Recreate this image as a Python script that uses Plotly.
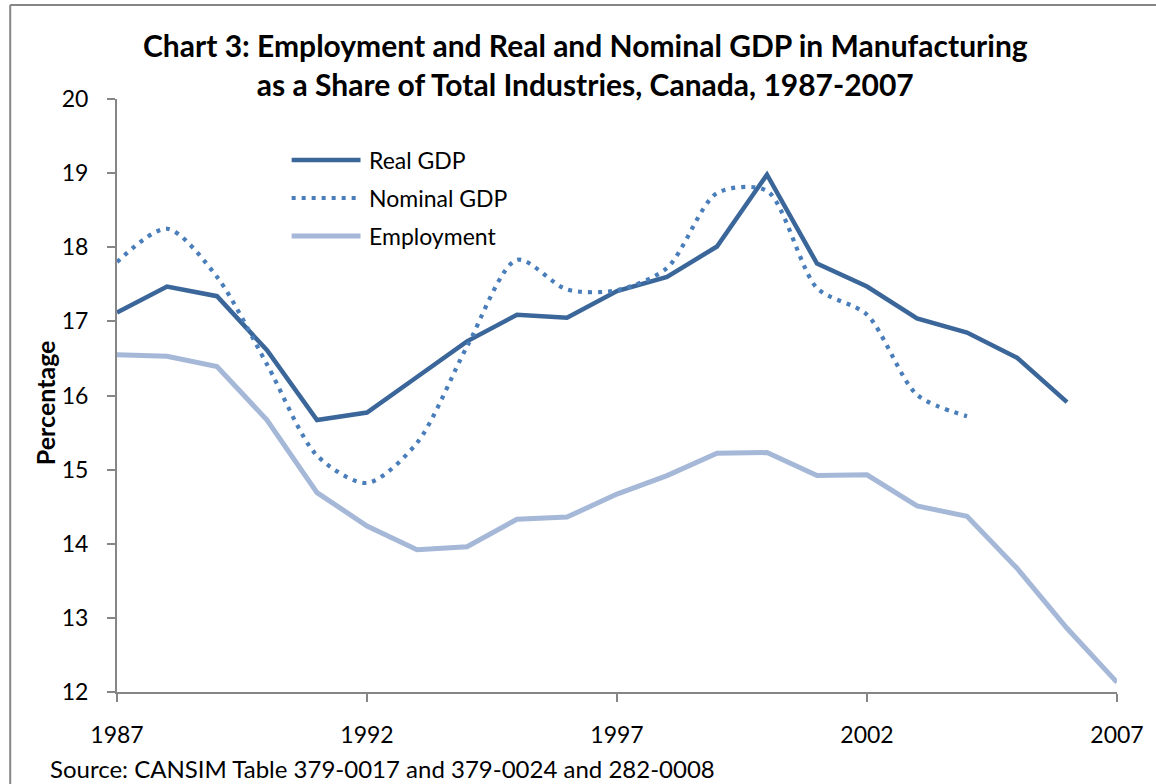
import plotly.graph_objects as go

# Manufacturing as a share of total industries (%), Canada
years = list(range(1987, 2008))

real_gdp = [17.12, 17.47, 17.34, 16.61, 15.67, 15.77, 16.25, 16.73, 17.09, 17.05,
            17.41, 17.60, 18.01, 18.98, 17.78, 17.47, 17.04, 16.85, 16.51, 15.91]
nominal_gdp = [17.80, 18.25, 17.60, 16.42, 15.19, 14.82, 15.36, 16.66, 17.83, 17.43,
               17.42, 17.72, 18.73, 18.76, 17.45, 17.09, 16.01, 15.72]
employment = [16.55, 16.53, 16.39, 15.67, 14.69, 14.24, 13.92, 13.96, 14.33, 14.36,
              14.67, 14.92, 15.22, 15.23, 14.92, 14.93, 14.51, 14.37, 13.67, 12.86, 12.13]

x_ticks = [1987, 1992, 1997, 2002, 2007]
y_ticks = list(range(12, 21))

title_text = ("Chart 3: Employment and Real and Nominal GDP in Manufacturing<br>"
              "as a Share of Total Industries, Canada, 1987-2007")
source_text = "Source: CANSIM Table 379-0017 and 379-0024 and 282-0008"

C_REAL = "#3B6699"
C_NOM = "#4A7EBB"
C_EMP = "#A6B8D7"
AXIS = "#868686"
FONT = "Lato"
DOTS = "4px,6px"

W, H = 1156, 784
L, R, T, B = 117, 37, 99, 92
PW, PH = W - L - R, H - T - B


def px(xp):
    return (xp - L) / PW


def py(yp):
    return (H - B - yp) / PH


fig = go.Figure()
fig.add_trace(go.Scatter(x=years[:len(real_gdp)], y=real_gdp, mode="lines",
                         name="Real GDP", line=dict(color=C_REAL, width=4.5)))
fig.add_trace(go.Scatter(x=years[:len(nominal_gdp)], y=nominal_gdp, mode="lines",
                         name="Nominal GDP",
                         line=dict(color=C_NOM, width=4.2, dash=DOTS,
                                   shape="spline", smoothing=0.8)))
fig.add_trace(go.Scatter(x=years, y=employment, mode="lines", name="Employment",
                         line=dict(color=C_EMP, width=5)))

# legend drawn as sample lines with labels
legend_items = [("Real GDP", C_REAL, "solid", 4.5, 160),
                ("Nominal GDP", C_NOM, DOTS, 4.2, 198),
                ("Employment", C_EMP, "solid", 5, 236)]
shapes = []
annotations = []
for label, color, dash, width, yp in legend_items:
    shapes.append(dict(type="line", xref="paper", yref="paper",
                       x0=px(292), x1=px(361), y0=py(yp), y1=py(yp),
                       line=dict(color=color, width=width, dash=dash)))
    annotations.append(dict(text=label, xref="paper", yref="paper", x=px(367), y=py(yp),
                            xanchor="left", yanchor="middle", showarrow=False,
                            font=dict(family=FONT, size=23, color="#000000")))

# chart frame (left and top edges)
shapes.append(dict(type="line", xref="paper", yref="paper", x0=px(10), x1=px(10),
                   y0=py(5), y1=py(H + 5), line=dict(color=AXIS, width=2)))
shapes.append(dict(type="line", xref="paper", yref="paper", x0=px(10), x1=px(W + 5),
                   y0=py(5), y1=py(5), line=dict(color=AXIS, width=2)))

annotations.append(dict(text="<b>" + title_text + "</b>", xref="paper", yref="paper",
                        x=px(586), y=py(65), xanchor="center", yanchor="middle",
                        showarrow=False, align="center",
                        font=dict(family=FONT, size=30, color="#000000")))
annotations.append(dict(text="<b>Percentage</b>", xref="paper", yref="paper",
                        x=px(45), y=py(403), xanchor="center", yanchor="middle",
                        textangle=-90, showarrow=False,
                        font=dict(family=FONT, size=25, color="#000000")))
annotations.append(dict(text=source_text, xref="paper", yref="paper",
                        x=px(48), y=py(768), xanchor="left", yanchor="middle",
                        showarrow=False, font=dict(family=FONT, size=24, color="#000000")))

fig.update_layout(
    width=W, height=H,
    margin=dict(l=L, r=R, t=T, b=B),
    paper_bgcolor="white", plot_bgcolor="white",
    showlegend=False,
    shapes=shapes, annotations=annotations,
    font=dict(family=FONT, size=23, color="#000000"),
)
fig.update_xaxes(range=[1987, 2007], tickvals=x_ticks, ticktext=[str(v) for v in x_ticks],
                 showgrid=False, zeroline=False, showline=True, linecolor=AXIS, linewidth=2,
                 ticks="outside", ticklen=8, tickwidth=2, tickcolor=AXIS,
                 ticklabelstandoff=13, tickfont=dict(family=FONT, size=23))
fig.update_yaxes(range=[12, 20], tickvals=y_ticks, showgrid=False, zeroline=False,
                 showline=True, linecolor=AXIS, linewidth=2,
                 ticks="outside", ticklen=8, tickwidth=2, tickcolor=AXIS,
                 ticklabelstandoff=14, tickfont=dict(family=FONT, size=23))

fig.write_html("out.html")
